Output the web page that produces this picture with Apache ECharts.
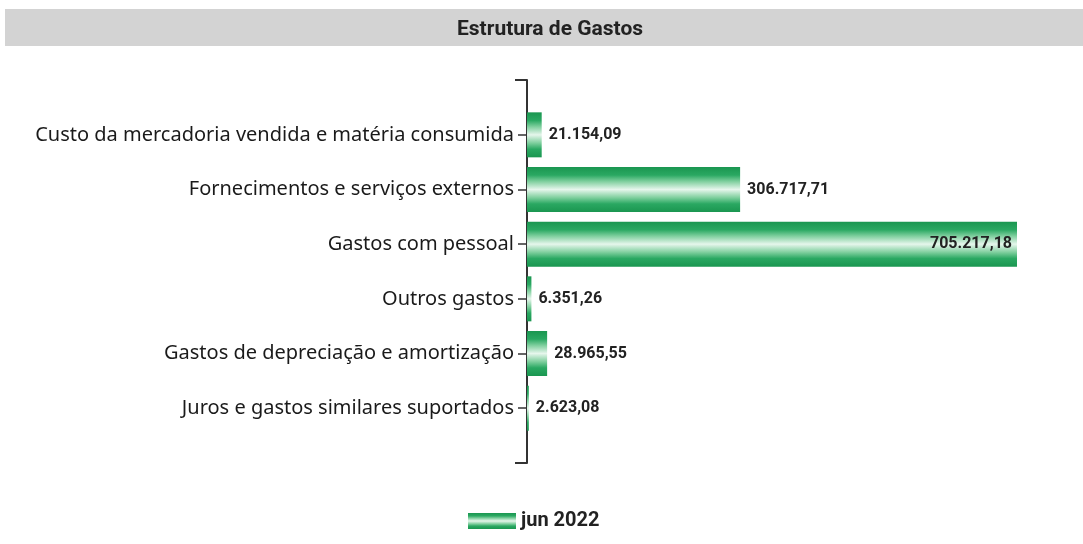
<!DOCTYPE html>
<html><head><meta charset="utf-8">
<script src="https://cdn.jsdelivr.net/npm/echarts@6/dist/echarts.min.js"></script>
<style>html,body{margin:0;padding:0;background:#fff}#c{width:1083px;height:544px}</style>
</head><body><div id="c"></div>
<script>
const categories = [
  'Custo da mercadoria vendida e matéria consumida',
  'Fornecimentos e serviços externos',
  'Gastos com pessoal',
  'Outros gastos',
  'Gastos de depreciação e amortização',
  'Juros e gastos similares suportados'
];
const values = [21154.09, 306717.71, 705217.18, 6351.26, 28965.55, 2623.08];
const seriesName = 'jun 2022';
const chartTitle = 'Estrutura de Gastos';

function fmt(v) {
  const parts = v.toFixed(2).split('.');
  parts[0] = parts[0].replace(/\B(?=(\d{3})+(?!\d))/g, '.');
  return parts[0] + ',' + parts[1];
}
const maxVal = Math.max.apply(null, values);
const green = {
  type: 'linear', x: 0, y: 0, x2: 0, y2: 1,
  colorStops: [
    {offset: 0, color: '#1a9650'},
    {offset: 0.18, color: '#2aa862'},
    {offset: 0.32, color: '#7fcf9e'},
    {offset: 0.5, color: '#e6f6ec'},
    {offset: 0.68, color: '#7fcf9e'},
    {offset: 0.82, color: '#2aa862'},
    {offset: 1, color: '#1a9650'}
  ]
};
const chart = echarts.init(document.getElementById('c'));
chart.setOption({
  animation: false,
  backgroundColor: '#fff',
  graphic: [{type: 'rect', left: 5, top: 9, shape: {width: 1078, height: 37}, style: {fill: '#d3d3d3'}, z: -1}],
  title: {
    text: chartTitle, left: 452, top: 14,
    textStyle: {fontFamily: 'Roboto, sans-serif', fontWeight: 'bold', fontSize: 21, color: '#222', letterSpacing: -0.3}
  },
  legend: {
    bottom: 8, left: 463, itemWidth: 48, itemHeight: 16, itemGap: 6,
    textStyle: {fontFamily: 'Roboto, sans-serif', fontWeight: 'bold', fontSize: 20, color: '#222'},
    data: [{name: seriesName, icon: 'rect'}]
  },
  grid: [
    {left: 527, right: 66, top: 107.5, height: 328},
    {left: 527, right: 66, top: 80, height: 383}
  ],
  xAxis: [
    {type: 'value', gridIndex: 0, min: 0, max: maxVal, show: false},
    {type: 'value', gridIndex: 1, min: 0, max: 1, show: false}
  ],
  yAxis: [
    {
      type: 'category', gridIndex: 0, data: categories, inverse: true,
      axisLine: {show: false},
      axisTick: {show: true, alignWithLabel: true, length: 9, lineStyle: {color: '#333', width: 1.5}},
      axisLabel: {margin: 13, fontFamily: 'Noto Sans, sans-serif', fontSize: 20, color: '#1a1a1a'}
    },
    {
      type: 'value', gridIndex: 1, min: 0, max: 1, interval: 1, inverse: true,
      axisLine: {show: true, lineStyle: {color: '#333', width: 2}},
      axisTick: {show: true, length: 12, lineStyle: {color: '#333', width: 2}},
      axisLabel: {show: false}, splitLine: {show: false}
    }
  ],
  series: [{
    name: seriesName, type: 'bar', xAxisIndex: 0, yAxisIndex: 0,
    barWidth: 45,
    itemStyle: {color: green},
    data: values.map(function (v, i) {
      const inside = v === maxVal;
      return {
        value: v,
        label: {position: inside ? 'insideRight' : 'right', distance: inside ? 5 : 7}
      };
    }),
    label: {
      show: true,
      formatter: function (p) { return fmt(p.value); },
      fontFamily: 'Roboto, sans-serif', fontWeight: 'bold', fontSize: 16, color: '#222', letterSpacing: -0.6
    }
  }]
});
</script></body></html>
